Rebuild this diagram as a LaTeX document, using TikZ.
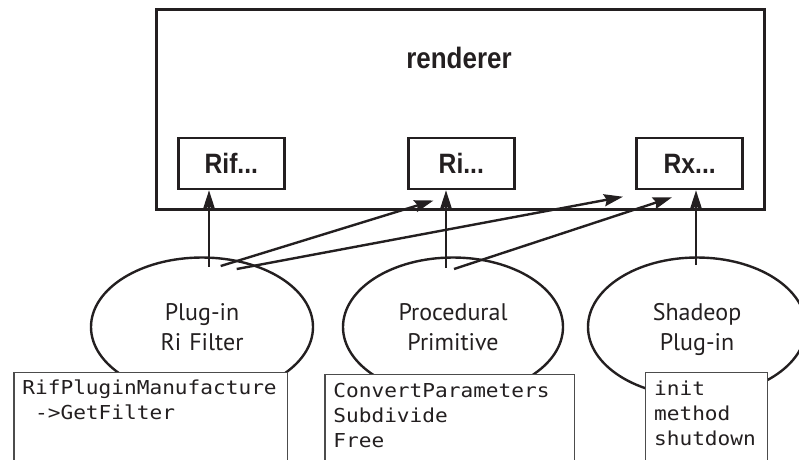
\documentclass[tikz,border=0pt]{standalone}
\usepackage{fontspec}
\usetikzlibrary{arrows.meta,shapes.geometric}
\newfontfamily\condfont{Liberation Sans}[FakeStretch=0.88]
\newfontfamily\lblfont{PT Sans}
\newfontfamily\codefont{DejaVu Sans Mono}[FakeStretch=1.1]
\definecolor{ink}{HTML}{231F20}
\begin{document}
\begin{tikzpicture}[x=1pt,y=-1pt,
  frame/.style={draw=ink, line width=3pt, inner sep=0pt},
  title/.style={font=\condfont\bfseries\fontsize{29.5}{31}\selectfont, text=ink, inner sep=0pt},
  rbox/.style={draw=ink, line width=2.6pt, minimum width=106pt, minimum height=51pt,
    inner sep=0pt, font=\condfont\bfseries\fontsize{28}{30}\selectfont,
    text height=20pt, text depth=0pt, text=ink},
  plug/.style={ellipse, draw=ink, line width=2.4pt, inner sep=0pt, text width=140pt,
    align=center, font=\lblfont\fontsize{24}{30}\selectfont, text height=16.5pt,
    text depth=30pt, minimum height=139pt, text=ink},
  codebox/.style={draw=black!70, line width=1.2pt, fill=white, anchor=north west,
    inner xsep=8.5pt, inner ysep=0pt, align=left,
    font=\codefont\fontsize{19.2}{25}\selectfont, text height=22.5pt,
    text depth=110pt, text=ink},
  arr/.style={draw=ink, line width=2.4pt, -{Stealth[length=19pt,width=12pt,inset=2.5pt]}}]
\useasboundingbox (0,0) rectangle (799,459);
\clip (0,0) rectangle (799,459);
% renderer frame
\node[frame, minimum width=608pt, minimum height=199.8pt] (frame) at (460,109.4) {};
\node[title, anchor=base] (renderer) at (459,68) {renderer};
\node[rbox] (rif) at (231.3,163.5) {Rif...};
\node[rbox] (ri) at (461.3,163.5) {Ri...};
\node[rbox] (rx) at (689.7,163.5) {Rx...};
% plug-ins
\node[plug, minimum width=222pt] (filter) at (202,327) {Plug-in\\Ri Filter};
\node[plug, minimum width=220pt] (proc) at (453,327) {Procedural\\Primitive};
\node[plug, minimum width=218pt] (shade) at (697,327) {Shadeop\\Plug-in};
% code boxes
\node[codebox, text width=256.4pt] (c1) at (13.3,371.7)
  {RifPluginManufacture\\\phantom{-}->GetFilter};
\node[codebox, text width=232.7pt] (c2) at (324.3,374)
  {ConvertParameters\\Subdivide\\Free};
\node[codebox, text width=104.7pt] (c3) at (645,372)
  {init\\method\\shutdown};
% connectors
\coordinate (v1) at (209,266.7);
\coordinate (v2) at (446,268);
\coordinate (v3) at (696,265);
\draw[arr] (v1) -- (v1 |- rif.south);
\draw[arr] (v2) -- (v2 |- ri.south);
\draw[arr] (v3) -- (v3 |- rx.south);
\coordinate (a1s) at (220.7,266);
\coordinate (a1e) at (433.5,200.5);
\coordinate (a2s) at (236.7,269);
\coordinate (a2e) at (623,196.7);
\coordinate (a3s) at (454,269);
\coordinate (a3e) at (672,197.3);
\draw[arr] (a1s) -- (a1e);
\draw[arr] (a2s) -- (a2e);
\draw[arr] (a3s) -- (a3e);
\end{tikzpicture}
\end{document}
